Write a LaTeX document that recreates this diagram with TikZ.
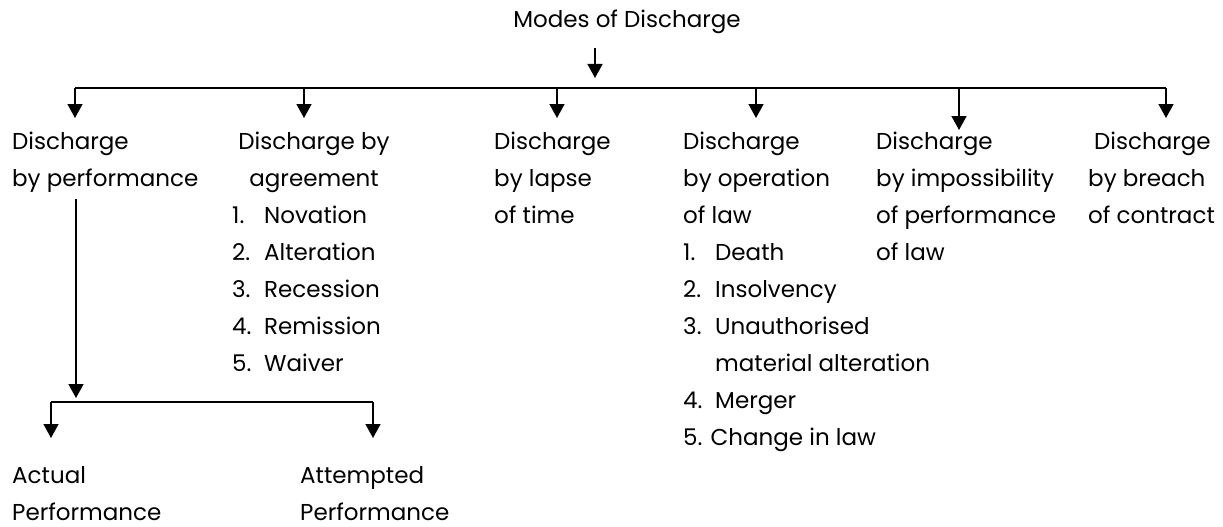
\documentclass[tikz,border=0pt]{standalone}
\usepackage{fontspec}
\setmainfont{Poppins}
\usetikzlibrary{arrows.meta}
\tikzset{
  conn/.style={line width=1.4pt},
  arr/.style={line width=1.4pt,-{Triangle[width=15pt,length=14pt]}},
  txt/.style={inner sep=0pt,anchor=base west,font=\fontsize{23}{37}\selectfont},
  txtc/.style={inner sep=0pt,anchor=base,font=\fontsize{23}{37}\selectfont},
}
\newcommand{\num}[1]{\makebox[32pt][l]{#1}}
\newcommand{\colL}[1]{\begin{tabular}[t]{@{}l@{}}#1\end{tabular}}
\newcommand{\colC}[1]{\begin{tabular}[t]{@{}c@{}}#1\end{tabular}}
\begin{document}
\begin{tikzpicture}[x=1pt,y=-1pt]
\useasboundingbox (0,0) rectangle (1223,527);
% title
\node[txtc] (title) at (627,28) {Modes of Discharge};
% columns
\node[txt] (perf) at (12,149) {\colL{Discharge\\by performance}};
\node[txtc] (agr) at (314,149) {\colC{Discharge by\\agreement}};
\node[txt] (agrlist) at (232,223) {\colL{\num{1.}Novation\\\num{2.}Alteration\\\num{3.}Recession\\\num{4.}Remission\\\num{5.}Waiver}};
\node[txt] (lapse) at (494,149) {\colL{Discharge\\by lapse\\of time}};
\node[txt] (oper) at (683,149) {\colL{Discharge\\by operation\\of law\\\num{1.}Death\\\num{2.}Insolvency\\\num{3.}Unauthorised\\\num{}material alteration\\\num{4.}Merger\\5. Change in law}};
\node[txt] (imp) at (876,149) {\colL{Discharge\\by impossibility\\of performance\\of law}};
\node[txt] (breach) at (1088,149) {\colL{\hspace{6pt}Discharge\\by breach\\of contract}};
\node[txt] (actual) at (12,483) {\colL{Actual\\Performance}};
\node[txt] (attempt) at (300,483) {\colL{Attempted\\Performance}};
% main bus
\coordinate (top) at (595,48);
\coordinate (tip) at (595,78);
\coordinate (bl) at (75,88);
\coordinate (br) at (1166,88);
\draw[arr] (top) -- (tip);
\draw[conn] (bl) -- (br);
\foreach \x/\n in {75/a,304/b,557/c,756/d,1166/f}{
  \coordinate (d\n) at (\x,88);
  \coordinate (t\n) at (\x,118);
  \draw[arr] (d\n) -- (t\n);
}
\coordinate (de) at (959,88);
\coordinate (te) at (959,130);
\draw[arr] (de) -- (te);
% sub tree
\coordinate (vtop) at (76,199);
\coordinate (vbot) at (76,398);
\draw[arr] (vtop) -- (vbot);
\coordinate (sl) at (51,402);
\coordinate (sr) at (373,402);
\draw[conn] (sl) -- (sr);
\coordinate (sla) at (51,438);
\coordinate (sra) at (373,438);
\draw[arr] (sl) -- (sla);
\draw[arr] (sr) -- (sra);
\end{tikzpicture}
\end{document}
